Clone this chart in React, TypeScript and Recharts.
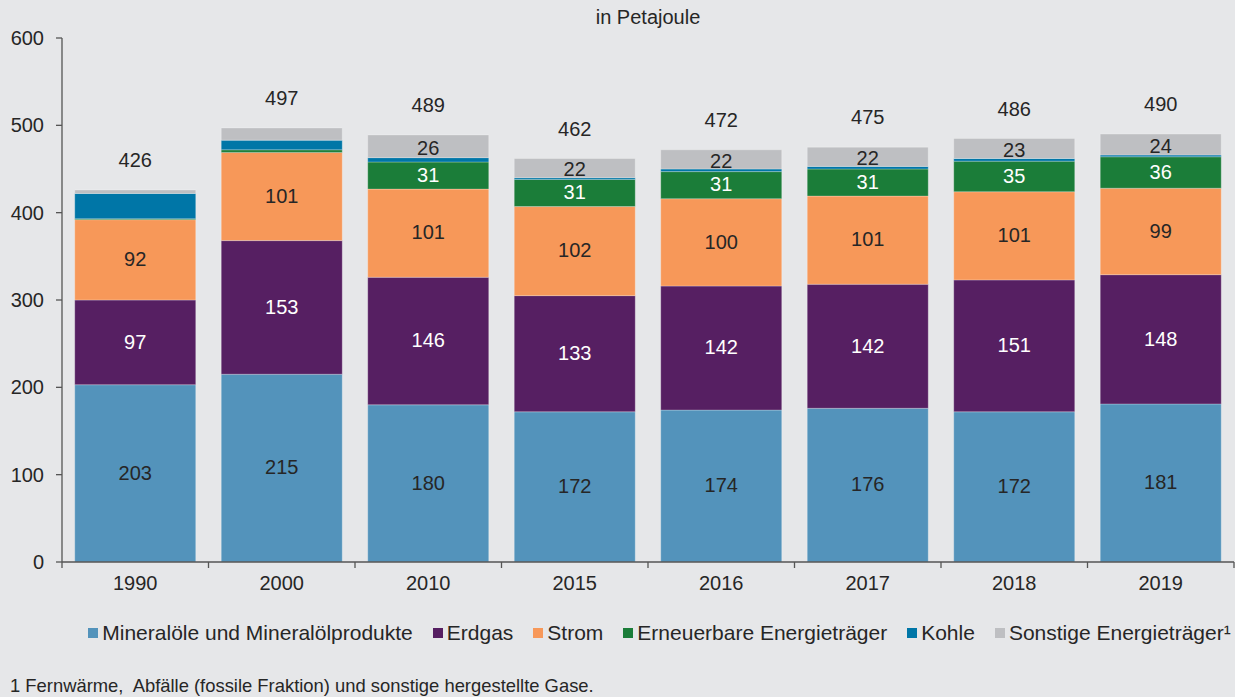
import React from "react";
import { BarChart, Bar, XAxis, YAxis, LabelList } from "recharts";

const years = ["1990", "2000", "2010", "2015", "2016", "2017", "2018", "2019"];
const mineraloele = [203, 215, 180, 172, 174, 176, 172, 181];
const erdgas = [97, 153, 146, 133, 142, 142, 151, 148];
const strom = [92, 101, 101, 102, 100, 101, 101, 99];
const erneuerbare = [1, 3, 31, 31, 31, 31, 35, 36];
const kohle = [29, 11, 5, 2, 3, 3, 3, 2];
const sonstige = [4, 14, 26, 22, 22, 22, 23, 24];
const totals = [426, 497, 489, 462, 472, 475, 486, 490];
const yTicks = [0, 100, 200, 300, 400, 500, 600];

const seriesDefs = [
  { key: "min", name: "Mineralöle und Mineralölprodukte", color: "#5393BB", label: "#262626", values: mineraloele },
  { key: "gas", name: "Erdgas", color: "#561F62", label: "#FFFFFF", values: erdgas },
  { key: "strom", name: "Strom", color: "#F79859", label: "#262626", values: strom },
  { key: "ern", name: "Erneuerbare Energieträger", color: "#1B7D39", label: "#FFFFFF", values: erneuerbare },
  { key: "kohle", name: "Kohle", color: "#0076A7", label: null, values: kohle },
  { key: "sonst", name: "Sonstige Energieträger¹", color: "#BEBFC2", label: "#262626", values: sonstige },
];

const data = years.map((y, i) => {
  const row: any = { year: y, total: totals[i] };
  seriesDefs.forEach((s) => {
    row[s.key] = s.values[i];
  });
  return row;
});

const FONT = "'Liberation Sans', Arial, sans-serif";
const FS = 20;
const CHART_W = 1235;
const CHART_H = 600;
const PLOT_LEFT = 62;
const PLOT_RIGHT_MARGIN = 1;
const BAND = (CHART_W - PLOT_LEFT - PLOT_RIGHT_MARGIN) / years.length;

const XTick = (props: any) => {
  const { x, y, payload, index } = props;
  const half = BAND / 2;
  return (
    <g>
      <line x1={x - half} x2={x - half} y1={y - 8} y2={y - 2} stroke="#555" strokeWidth={1.3} />
      {index === years.length - 1 && (
        <line x1={x + half} x2={x + half} y1={y - 8} y2={y - 2} stroke="#555" strokeWidth={1.3} />
      )}
      <text x={x} y={y + 20} textAnchor="middle" fill="#262626" fontSize={FS} fontFamily={FONT}>
        {payload.value}
      </text>
    </g>
  );
};

const segLabel = (color: string, dy: number) => (props: any) => {
  const { x, y, width, height, value } = props;
  if (value == null || value < 15) return null;
  return (
    <text
      x={x + width / 2}
      y={y + height / 2 + dy}
      textAnchor="middle"
      dominantBaseline="middle"
      fill={color}
      fontSize={FS}
      fontFamily={FONT}
    >
      {value}
    </text>
  );
};

const totalLabel = (props: any) => {
  const { x, y, width, index } = props;
  return (
    <text
      x={x + width / 2}
      y={y - 28}
      textAnchor="middle"
      dominantBaseline="middle"
      fill="#262626"
      fontSize={FS}
      fontFamily={FONT}
    >
      {totals[index]}
    </text>
  );
};

export default function App() {
  return (
    <div
      style={{
        position: "absolute",
        left: 0,
        top: 0,
        width: 1235,
        height: 697,
        background: "#E6E7E9",
        fontFamily: FONT,
        overflow: "hidden",
      }}
    >
      <div
        style={{
          position: "absolute",
          top: 6,
          left: PLOT_LEFT,
          width: CHART_W - PLOT_LEFT - PLOT_RIGHT_MARGIN,
          textAlign: "center",
          fontSize: FS,
          color: "#262626",
        }}
      >
        in Petajoule
      </div>
      <BarChart
        width={CHART_W}
        height={CHART_H}
        data={data}
        margin={{ top: 38, right: PLOT_RIGHT_MARGIN, left: 0, bottom: 8 }}
        barCategoryGap="8.7%"
      >
        <XAxis
          dataKey="year"
          height={30}
          tickLine={false}
          axisLine={{ stroke: "#555", strokeWidth: 1.3 }}
          tick={<XTick />}
          interval={0}
        />
        <YAxis
          width={PLOT_LEFT}
          domain={[0, 600]}
          ticks={yTicks}
          tickSize={6}
          tickMargin={12}
          axisLine={{ stroke: "#555", strokeWidth: 1.3 }}
          tickLine={{ stroke: "#555", strokeWidth: 1.3 }}
          tick={{ fill: "#262626", fontSize: FS, fontFamily: FONT }}
          allowDecimals={false}
        />
        {seriesDefs.map((s, i) => (
          <Bar
            key={s.key}
            dataKey={s.key}
            name={s.name}
            stackId="a"
            fill={s.color}
            stroke="#ffffff"
            strokeOpacity={0.25}
            strokeWidth={1}
            isAnimationActive={false}
          >
            {s.label && <LabelList dataKey={s.key} content={segLabel(s.label, s.key === "sonst" ? 3 : 1)} />}
            {i === seriesDefs.length - 1 && <LabelList dataKey={s.key} content={totalLabel} />}
          </Bar>
        ))}
      </BarChart>
      <div
        style={{
          position: "absolute",
          top: 621,
          left: 0,
          width: 1235,
          paddingLeft: 84,
          boxSizing: "border-box",
          display: "flex",
          justifyContent: "center",
          alignItems: "center",
          fontSize: 21,
          color: "#262626",
          whiteSpace: "nowrap",
        }}
      >
        {seriesDefs.map((s, i) => (
          <div
            key={s.key}
            style={{ display: "flex", alignItems: "center", marginRight: i === seriesDefs.length - 1 ? 0 : 20 }}
          >
            <span style={{ display: "inline-block", width: 10, height: 10, background: s.color, marginRight: 4 }} />
            <span>{s.name}</span>
          </div>
        ))}
      </div>
      <div
        style={{
          position: "absolute",
          top: 675,
          left: 10,
          fontSize: 18.4,
          color: "#262626",
          whiteSpace: "nowrap",
        }}
      >
        1 Fernwärme,&nbsp; Abfälle (fossile Fraktion) und sonstige hergestellte Gase.
      </div>
    </div>
  );
}
